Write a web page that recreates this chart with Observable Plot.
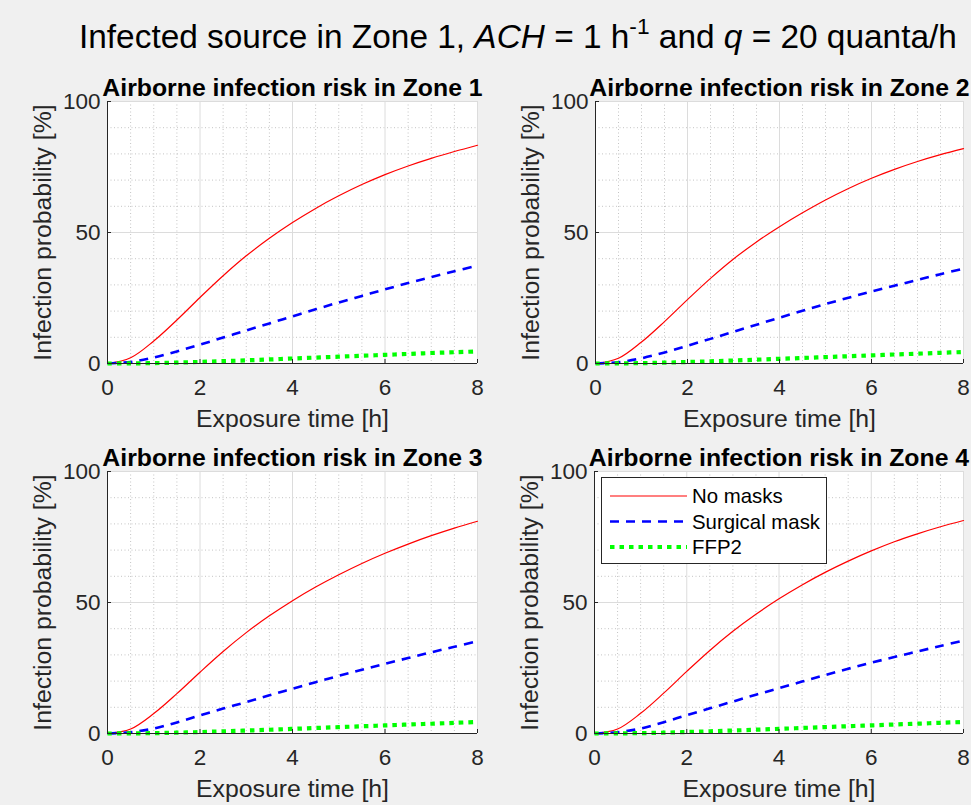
<!DOCTYPE html>
<html><head><meta charset="utf-8">
<script src="https://cdn.jsdelivr.net/npm/d3@7"></script>
<script src="https://cdn.jsdelivr.net/npm/@observablehq/plot@0.6"></script>
<style>
body{margin:0;background:#f0f0f0;}
#fig{position:relative;width:971px;height:805px;background:#f0f0f0;overflow:hidden;font-family:"Liberation Sans",Arial,sans-serif;color:#262626;}
#title{position:absolute;left:79px;top:20px;font-size:33.4px;line-height:33px;white-space:nowrap;color:#000;}
#title .sup{font-size:0.68em;position:relative;top:-0.62em;}
.panel{position:absolute;}
#legend{position:absolute;left:601px;top:477px;width:226px;height:87px;box-sizing:border-box;background:#fff;border:1px solid #262626;}
</style></head>
<body><div id="fig">
<div id="title">Infected source in Zone 1, <i>ACH</i> = 1 h<span class="sup">-1</span> and <i>q</i> = 20 quanta/h</div>
</div>
<script>
// ---- data ----
const time = [0, 0.5, 1, 1.5, 2, 2.5, 3, 3.5, 4, 4.5, 5, 5.5, 6, 6.5, 7, 7.5, 8];
const zones = ["Zone 1", "Zone 2", "Zone 3", "Zone 4"];
const seriesNames = ["No masks", "Surgical mask", "FFP2"];
const noMasks = [
  [0, 2.2, 8.6, 16.6, 25.2, 33.5, 41.1, 47.8, 53.8, 59.2, 64.0, 68.3, 72.1, 75.4, 78.3, 80.9, 83.3],
  [0, 2.0, 8.2, 16.0, 24.4, 32.5, 39.9, 46.4, 52.2, 57.5, 62.4, 66.8, 70.7, 74.1, 77.1, 79.7, 82.0],
  [0, 1.7, 7.6, 15.2, 23.4, 31.3, 38.5, 44.9, 50.7, 55.9, 60.6, 64.9, 68.8, 72.3, 75.5, 78.4, 81.0],
  [0, 1.7, 7.7, 15.4, 23.7, 31.7, 39.0, 45.5, 51.4, 56.7, 61.5, 65.8, 69.7, 73.2, 76.2, 78.9, 81.3]
];
const surgical = [
  [0, 0.6, 2.3, 4.6, 7.2, 9.9, 12.6, 15.3, 18.0, 20.7, 23.3, 25.8, 28.3, 30.7, 33.0, 35.2, 37.4],
  [0, 0.5, 2.0, 4.2, 6.8, 9.4, 12.1, 14.8, 17.5, 20.1, 22.7, 25.1, 27.5, 29.7, 31.9, 34.1, 36.2],
  [0, 0.5, 1.9, 4.2, 6.9, 9.5, 12.0, 14.6, 17.1, 19.6, 22.0, 24.3, 26.6, 28.8, 31.0, 33.1, 35.2],
  [0, 0.5, 1.9, 4.3, 7.0, 9.6, 12.2, 14.8, 17.3, 19.8, 22.3, 24.7, 27.0, 29.2, 31.3, 33.4, 35.5]
];
const ffp2 = [
  [0, 0.04, 0.15, 0.35, 0.6, 0.9, 1.2, 1.55, 1.9, 2.25, 2.6, 2.95, 3.3, 3.65, 4.0, 4.3, 4.6],
  [0, 0.04, 0.14, 0.32, 0.56, 0.84, 1.13, 1.45, 1.78, 2.1, 2.45, 2.78, 3.1, 3.43, 3.75, 4.08, 4.4],
  [0, 0.04, 0.14, 0.32, 0.55, 0.83, 1.12, 1.44, 1.76, 2.1, 2.43, 2.76, 3.08, 3.42, 3.73, 4.07, 4.4],
  [0, 0.04, 0.14, 0.32, 0.56, 0.84, 1.13, 1.45, 1.78, 2.1, 2.45, 2.78, 3.1, 3.43, 3.75, 4.08, 4.4]
];
const xTicks = [0, 2, 4, 6, 8];
const yTicks = [0, 50, 100];
const xMinor = [0.5, 1, 1.5, 2.5, 3, 3.5, 4.5, 5, 5.5, 6.5, 7, 7.5];
const yMinor = [10, 20, 30, 40, 60, 70, 80, 90];

// ---- styles ----
const styles = [
  {stroke: "#ff0000", strokeWidth: 1.2, strokeDasharray: null, strokeLinecap: "round"},
  {stroke: "#0000ff", strokeWidth: 2.6, strokeDasharray: "9,7", strokeLinecap: "butt"},
  {stroke: "#00ff00", strokeWidth: 4.2, strokeDasharray: "4.5,5", strokeLinecap: "butt"}
];
const layout = [
  {left: 0, top: 58, width: 485},
  {left: 488, top: 58, width: 483},
  {left: 0, top: 428, width: 485},
  {left: 487, top: 428, width: 484}
];
const H = 372, MT = 43, MB = 67, ML = 107, MR = 8;
const fig = document.getElementById("fig");

zones.forEach((zone, zi) => {
  const L = layout[zi];
  const frameW = L.width - ML - MR, frameH = H - MT - MB;
  const seriesData = [noMasks[zi], surgical[zi], ffp2[zi]];
  const lineMarks = seriesData.map((vals, si) =>
    Plot.line(time.map((t, i) => ({t, v: vals[i]})), {
      x: "t", y: "v", curve: "catmull-rom", ...styles[si]
    })
  );
  const chart = Plot.plot({
    width: L.width, height: H,
    marginLeft: ML, marginRight: MR, marginTop: MT, marginBottom: MB,
    style: {background: "transparent", fontFamily: "'Liberation Sans', Arial, sans-serif", color: "#262626", overflow: "visible"},
    x: {domain: [0, 8]},
    y: {domain: [0, 100]},
    marks: [
      Plot.frame({fill: "white"}),
      Plot.ruleX(xMinor, {stroke: "#c4c4c4", strokeDasharray: "1,2.5"}),
      Plot.ruleY(yMinor, {stroke: "#c4c4c4", strokeDasharray: "1,2.5"}),
      Plot.ruleX(xTicks, {stroke: "#dcdcdc"}),
      Plot.ruleY(yTicks, {stroke: "#dcdcdc"}),
      ...lineMarks,
      Plot.ruleX([0], {stroke: "#262626"}),
      Plot.ruleY([0], {stroke: "#262626"}),
      Plot.ruleX(xTicks, {stroke: "#262626", insetTop: frameH - 4}),
      Plot.ruleY(yTicks, {stroke: "#262626", insetRight: frameW - 4}),
      Plot.axisX({ticks: xTicks, tickSize: 0, tickPadding: 16, fontSize: 22.5, label: null, tickFormat: d => String(d)}),
      Plot.axisY({ticks: yTicks, tickSize: 0, tickPadding: 7, fontSize: 22.5, label: null, tickFormat: d => String(d)}),
      Plot.text(["Airborne infection risk in " + zone], {text: d => d, frameAnchor: "top", lineAnchor: "top", dy: -23.6, fontWeight: "bold", fontSize: 24.8, fill: "#000"}),
      Plot.text(["Exposure time [h]"], {text: d => d, frameAnchor: "bottom", lineAnchor: "top", dy: 46, fontSize: 24.8, fill: "#262626"}),
      Plot.text(["Infection probability [%]"], {text: d => d, frameAnchor: "left", textAnchor: "middle", lineAnchor: "middle", rotate: -90, dx: -64, fontSize: 24.8, fill: "#262626"})
    ]
  });
  const div = document.createElement("div");
  div.className = "panel";
  div.style.left = L.left + "px";
  div.style.top = L.top + "px";
  div.appendChild(chart);
  fig.appendChild(div);
});

// ---- legend (in Zone 4 panel) ----
const legend = document.createElement("div");
legend.id = "legend";
const ns = "http://www.w3.org/2000/svg";
const lsvg = document.createElementNS(ns, "svg");
lsvg.setAttribute("width", 224); lsvg.setAttribute("height", 85);
const rowY = [18, 43.5, 69];
seriesNames.forEach((name, i) => {
  const ln = document.createElementNS(ns, "line");
  ln.setAttribute("x1", 8); ln.setAttribute("x2", 85);
  ln.setAttribute("y1", rowY[i]); ln.setAttribute("y2", rowY[i]);
  ln.setAttribute("stroke", styles[i].stroke);
  ln.setAttribute("stroke-width", styles[i].strokeWidth);
  if (styles[i].strokeDasharray) ln.setAttribute("stroke-dasharray", styles[i].strokeDasharray);
  lsvg.appendChild(ln);
  const tx = document.createElementNS(ns, "text");
  tx.setAttribute("x", 90); tx.setAttribute("y", rowY[i]);
  tx.setAttribute("dy", "0.35em");
  tx.setAttribute("font-size", "20.4px");
  tx.setAttribute("font-family", "'Liberation Sans', Arial, sans-serif");
  tx.setAttribute("fill", "#000");
  tx.textContent = name;
  lsvg.appendChild(tx);
});
legend.appendChild(lsvg);
fig.appendChild(legend);
</script>
</body></html>
